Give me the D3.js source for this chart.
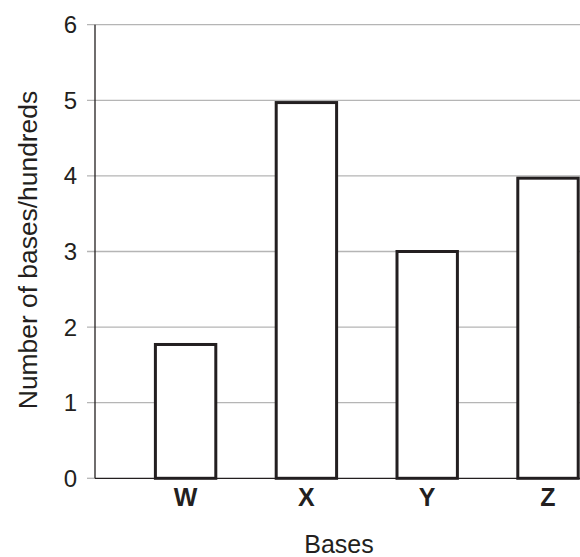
<!DOCTYPE html>
<html><head><meta charset="utf-8">
<script src="https://cdn.jsdelivr.net/npm/d3@7"></script>
<style>body{margin:0;background:#fff}svg{display:block}text{font-family:"Liberation Sans",Arial,sans-serif;fill:#231f20}</style>
</head><body>
<script>
const categories = ["W", "X", "Y", "Z"];
const values = [1.77, 4.97, 3.0, 3.97];
const yTicks = [0, 1, 2, 3, 4, 5, 6];
const xTitle = "Bases";
const yTitle = "Number of bases/hundreds";

const W = 580, H = 557;
const svg = d3.select("body").append("svg").attr("width", W).attr("height", H);
const x0 = 95, yTop = 24.7, yBot = 478.3;
const y = d3.scaleLinear().domain([0, 6]).range([yBot, yTop]);
const x = d3.scaleBand().domain(categories).range([x0, x0 + 543.6]).padding(0.5);

// gridlines
svg.append("g").selectAll("line").data(yTicks.filter(d => d > 0)).join("line")
  .attr("x1", 87).attr("x2", W).attr("y1", d => y(d)).attr("y2", d => y(d))
  .attr("stroke", "#b5b5b5").attr("stroke-width", 1.3);
svg.append("line").attr("x1", 87).attr("x2", x0).attr("y1", y(0)).attr("y2", y(0))
  .attr("stroke", "#b5b5b5").attr("stroke-width", 1.3);

// y tick labels
svg.append("g").selectAll("text").data(yTicks).join("text")
  .attr("x", 77).attr("y", d => y(d)).attr("dy", "0.35em")
  .attr("text-anchor", "end").attr("font-size", 24).text(d => d);

// bars
svg.append("g").selectAll("rect").data(values).join("rect")
  .attr("x", (d, i) => x(categories[i])).attr("width", x.bandwidth())
  .attr("y", d => y(d)).attr("height", d => y(0) - y(d))
  .attr("fill", "#fff").attr("stroke", "#231f20").attr("stroke-width", 3);

// axes lines
svg.append("line").attr("x1", x0).attr("x2", W).attr("y1", y(0)).attr("y2", y(0))
  .attr("stroke", "#231f20").attr("stroke-width", 1.3);
svg.append("line").attr("x1", x0).attr("x2", x0).attr("y1", yTop).attr("y2", yBot)
  .attr("stroke", "#231f20").attr("stroke-width", 1.3);

// category labels
svg.append("g").selectAll("text").data(categories).join("text")
  .attr("x", d => x(d) + x.bandwidth() / 2).attr("y", 506)
  .attr("text-anchor", "middle").attr("font-size", 25).attr("font-weight", "bold").text(d => d);

svg.append("text").attr("x", 339).attr("y", 553).attr("text-anchor", "middle")
  .attr("font-size", 25).text(xTitle);
svg.append("text").attr("transform", "translate(37,250) rotate(-90)")
  .attr("text-anchor", "middle").attr("font-size", 26.4).text(yTitle);
</script>
</body></html>
